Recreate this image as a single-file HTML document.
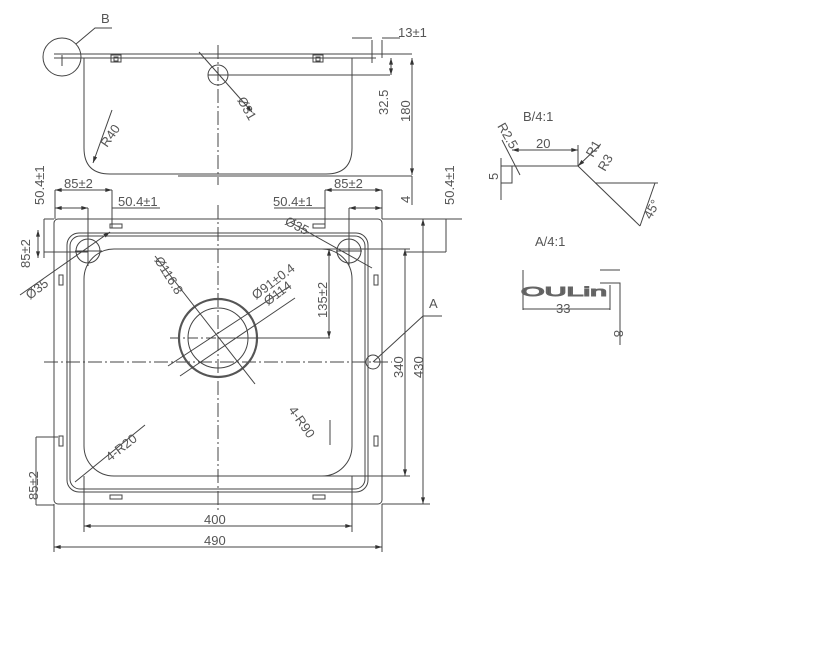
<!DOCTYPE html>
<html><head><meta charset="utf-8"><style>
html,body{margin:0;padding:0;background:#fff;width:831px;height:648px;overflow:hidden}
svg{display:block}
text{font-family:"Liberation Sans",sans-serif;fill:#555;font-size:13px}
</style></head><body>
<svg width="831" height="648" viewBox="0 0 831 648" xmlns="http://www.w3.org/2000/svg">
<defs>
<marker id="a" viewBox="0 0 10 6" refX="10" refY="3" markerWidth="7" markerHeight="4" orient="auto-start-reverse"><path d="M0,0L10,3L0,6z" fill="#333"/></marker>
</defs>
<g stroke="#444" stroke-width="1" fill="none">
<circle cx="62" cy="57" r="19"/>
<path d="M76,44L95,28H112"/>
<path d="M54,54H412M54,58H376"/>
<path d="M62,55V66"/>
<path d="M84,58V148Q84,174 110,174H326Q352,174 352,148V58"/>
<path d="M178,176H412"/>
<rect x="111" y="55" width="10" height="7"/><rect x="313" y="55" width="10" height="7"/>
<rect x="114" y="57" width="4" height="4"/><rect x="316" y="57" width="4" height="4"/>
<path d="M218,45V185" stroke-dasharray="14,3,2,3"/>
<circle cx="218" cy="75" r="10"/>
<path d="M199,52L252,112" marker-end="url(#a)"/>
<path d="M208,75H390"/>
<path d="M391,58V75" marker-start="url(#a)" marker-end="url(#a)"/>
<path d="M412,58V175" marker-start="url(#a)" marker-end="url(#a)"/>
<path d="M412,176V205"/>
<path d="M372,40V63M382,40V58M352,38H372M382,38H400" />
<path d="M112,110L93,163" marker-end="url(#a)"/>
<path d="M55,190H112" marker-start="url(#a)" marker-end="url(#a)"/>
<path d="M55,208H88" marker-start="url(#a)" marker-end="url(#a)"/>
<path d="M88,208V260M112,190V228M55,190V219"/>
<path d="M325,190H382" marker-start="url(#a)" marker-end="url(#a)"/>
<path d="M349,208H382" marker-start="url(#a)" marker-end="url(#a)"/>
<path d="M349,208V260M325,190V228M382,190V219"/>
<path d="M274,208H325"/>
<path d="M112,208H160"/>
<rect x="54" y="219" width="328" height="285" rx="4"/>
<path d="M44,219H54M382,219H462"/>
<rect x="67" y="233" width="301" height="259" rx="12"/>
<rect x="70" y="236" width="295" height="253" rx="10"/>
<rect x="84" y="249" width="268" height="227" rx="30"/>
<path d="M218,205V510" stroke-dasharray="14,3,2,3"/>
<path d="M44,362H392" stroke-dasharray="14,3,2,3"/>
<path d="M170,338H268" stroke-dasharray="10,3,2,3"/>
<circle cx="218" cy="338" r="39" stroke-width="2.2" stroke="#555"/>
<circle cx="218" cy="338" r="30"/>
<circle cx="88" cy="251" r="12"/><circle cx="349" cy="251" r="12"/>
<path d="M88,238V266M75,251H102M349,238V266M336,251H362"/>
<path d="M20,295L110,232" marker-end="url(#a)"/>
<path d="M290,222L372,268"/>
<path d="M155,256L255,384"/>
<path d="M168,366L290,286"/>
<path d="M180,376L295,298"/>
<path d="M218,338H330"/>
<path d="M329,249V338" marker-start="url(#a)" marker-end="url(#a)"/>
<path d="M300,249H410M300,476H410"/>
<path d="M405,249V476" marker-start="url(#a)" marker-end="url(#a)"/>
<path d="M423,219V504" marker-start="url(#a)" marker-end="url(#a)"/>
<path d="M382,504H430"/>
<circle cx="373" cy="362" r="7"/>
<path d="M373,362L423,316H442"/>
<path d="M75,482L145,425M330,420L330,445"/>
<path d="M84,476V532M352,476V532M54,504V552M382,504V552"/>
<path d="M84,526H352" marker-start="url(#a)" marker-end="url(#a)"/>
<path d="M54,547H382" marker-start="url(#a)" marker-end="url(#a)"/>
<path d="M44,219V258M44,252H88" />
<path d="M38,230V258" marker-start="url(#a)" marker-end="url(#a)"/>
<path d="M36,437V505M36,437H58M36,505H54"/>
<path d="M446,219V252M446,252H405"/>
<rect x="110" y="224" width="12" height="4"/><rect x="313" y="224" width="12" height="4"/>
<rect x="110" y="495" width="12" height="4"/><rect x="313" y="495" width="12" height="4"/>
<rect x="59" y="275" width="4" height="10"/><rect x="374" y="275" width="4" height="10"/>
<rect x="59" y="436" width="4" height="10"/><rect x="374" y="436" width="4" height="10"/>
<path d="M511,166H578M501,166H512V183H501V166"/>
<path d="M512,150H578" marker-start="url(#a)" marker-end="url(#a)"/>
<path d="M578,145V166"/>
<path d="M578,166L640,226M595,183H658"/>
<path d="M655,183L640,226"/>
<path d="M502,140L520,175M501,158V166M501,183V200"/>
<path d="M600,145L578,166" marker-end="url(#a)"/>
<path d="M523,270V310M610,285V310M523,309H610"/>
<path d="M600,270H620M600,283H620V345"/>
</g>
<g>
<text x="101" y="23" font-size="12">B</text>
<text x="398" y="37" font-size="13">13±1</text>
<text transform="translate(237,100) rotate(60)" font-size="13">Ø31</text>
<text transform="translate(388,115) rotate(-90)" font-size="13">32.5</text>
<text transform="translate(410,122) rotate(-90)" font-size="13">180</text>
<text transform="translate(410,203) rotate(-90)" font-size="13">4</text>
<text transform="translate(107,148) rotate(-55)" font-size="13">R40</text>
<text x="64" y="188" font-size="13">85±2</text>
<text x="118" y="206" font-size="13">50.4±1</text>
<text x="273" y="206" font-size="13">50.4±1</text>
<text x="334" y="188" font-size="13">85±2</text>
<text transform="translate(284,224) rotate(27)" font-size="13">Ø35</text>
<text transform="translate(44,205) rotate(-90)" font-size="13">50.4±1</text>
<text transform="translate(454,205) rotate(-90)" font-size="13">50.4±1</text>
<text transform="translate(30,268) rotate(-90)" font-size="13">85±2</text>
<text transform="translate(30,300) rotate(-38)" font-size="13">Ø35</text>
<text transform="translate(154,260) rotate(58)" font-size="13">Ø116.8</text>
<text transform="translate(256,300) rotate(-37)" font-size="13">Ø91±0.4</text>
<text transform="translate(268,306) rotate(-37)" font-size="13">Ø114</text>
<text transform="translate(327,318) rotate(-90)" font-size="13">135±2</text>
<text x="429" y="308" font-size="13">A</text>
<text transform="translate(403,378) rotate(-90)" font-size="14">340</text>
<text transform="translate(423,378) rotate(-90)" font-size="14">430</text>
<text transform="translate(110,462) rotate(-38)" font-size="13">4-R20</text>
<text transform="translate(288,410) rotate(55)" font-size="13">4-R90</text>
<text transform="translate(38,500) rotate(-90)" font-size="13">85±2</text>
<text x="204" y="524" font-size="14">400</text>
<text x="204" y="545" font-size="14">490</text>
<text x="523" y="121" font-family="Liberation Serif" font-size="12">B/4:1</text>
<text x="536" y="148" font-size="13">20</text>
<text transform="translate(497,126) rotate(60)" font-size="12">R2.5</text>
<text transform="translate(498,180) rotate(-90)" font-size="12">5</text>
<text transform="translate(593,158) rotate(-60)" font-size="12">R1</text>
<text transform="translate(605,172) rotate(-60)" font-size="12">R3</text>
<text transform="translate(651,220) rotate(-62)" font-size="12">45°</text>
<text x="535" y="246" font-family="Liberation Serif" font-size="12">A/4:1</text>
<text x="521" y="296" font-size="30" fill="none" stroke="#666" stroke-width="1" textLength="86" lengthAdjust="spacingAndGlyphs">OULin</text>
<text x="556" y="313" font-size="13">33</text>
<text transform="translate(614,330) rotate(90)" font-size="12">8</text>
</g>
</svg>
</body></html>
